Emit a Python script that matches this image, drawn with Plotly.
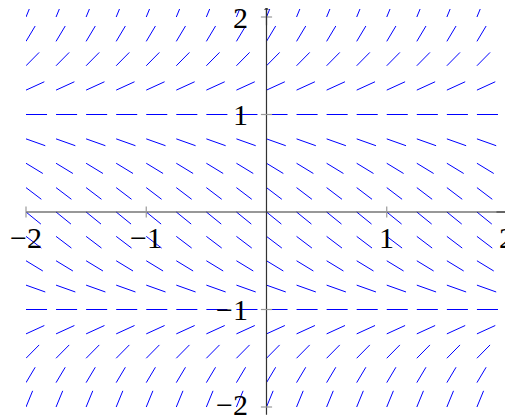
import plotly.graph_objects as go
import numpy as np

# slope field grid (columns / rows) and the slope read on each row
x_cols = [-2.0, -1.75, -1.5, -1.25, -1.0, -0.75, -0.5, -0.25, 0.0,
          0.25, 0.5, 0.75, 1.0, 1.25, 1.5, 1.75, 2.0]
y_rows = [-2.0, -1.75, -1.5, -1.25, -1.0, -0.75, -0.5, -0.25, 0.0,
          0.25, 0.5, 0.75, 1.0, 1.25, 1.5, 1.75, 2.0]
row_slopes = [3.0, 2.0625, 1.25, 0.5625, 0.0, -0.4375, -0.75, -0.9375, -1.0,
              -0.9375, -0.75, -0.4375, 0.0, 0.5625, 1.25, 2.0625, 3.0]

x_ticks = [-2, -1, 1, 2]
y_ticks = [-2, -1, 1, 2]
tick_text = {-2: "\u22122", -1: "\u22121", 1: "1", 2: "2"}

seg_len = 0.175

xs, ys = [], []
for y, s in zip(y_rows, row_slopes):
    dx = seg_len / np.sqrt(1 + s * s)
    dy = s * dx
    for x in x_cols:
        xs += [x, x + dx, None]
        ys += [y, y + dy, None]

fig = go.Figure()

fig.add_trace(go.Scatter(x=xs, y=ys, mode="lines",
                         line=dict(color="#0000ff", width=1),
                         hoverinfo="skip", showlegend=False))

# axis lines
fig.add_trace(go.Scatter(x=[-2, 2.04], y=[0, 0], mode="lines",
                         line=dict(color="#333333", width=1.2),
                         hoverinfo="skip", showlegend=False, cliponaxis=False))
fig.add_trace(go.Scatter(x=[0, 0], y=[-2.08, 2.08], mode="lines",
                         line=dict(color="#333333", width=1.2),
                         hoverinfo="skip", showlegend=False, cliponaxis=False))

# tick marks
fig.add_trace(go.Scatter(x=x_ticks, y=[0] * len(x_ticks), mode="markers",
                         marker=dict(symbol="line-ns", size=8,
                                     line=dict(color="#999999", width=1.2)),
                         hoverinfo="skip", showlegend=False, cliponaxis=False))
fig.add_trace(go.Scatter(x=[0] * len(y_ticks), y=y_ticks, mode="markers",
                         marker=dict(symbol="line-ew", size=8,
                                     line=dict(color="#999999", width=1.2)),
                         hoverinfo="skip", showlegend=False, cliponaxis=False))

annotations = []
for t in x_ticks:
    annotations.append(dict(x=t, y=0, xref="x", yref="y", text=tick_text[t],
                            showarrow=False, yshift=-25, xanchor="center",
                            yanchor="middle",
                            font=dict(family="Liberation Serif", size=30, color="black")))
for t in y_ticks:
    # lowest label sits a little higher so it stays inside the page
    annotations.append(dict(x=0, y=t, xref="x", yref="y", text=tick_text[t],
                            showarrow=False, xshift=-16, yshift=3 if t == -2 else 0,
                            xanchor="right", yanchor="middle",
                            font=dict(family="Liberation Serif", size=30, color="black")))

# arrow heads
annotations.append(dict(x=2.055, y=0, ax=1.9, ay=0, xref="x", yref="y",
                        axref="x", ayref="y", text="", showarrow=True,
                        arrowhead=1, arrowsize=0.7, arrowwidth=1.2,
                        arrowcolor="#333333"))
annotations.append(dict(x=0, y=2.1, ax=0, ay=1.9, xref="x", yref="y",
                        axref="x", ayref="y", text="", showarrow=True,
                        arrowhead=1, arrowsize=0.7, arrowwidth=1.2,
                        arrowcolor="#333333"))

# page body adds an 8px offset, so the figure is sized to fill the rest
fig.update_layout(
    width=505, height=411,
    margin=dict(l=18, r=0, t=1, b=4),
    plot_bgcolor="white", paper_bgcolor="white",
    xaxis=dict(range=[-2, 2.05], visible=False, fixedrange=True),
    yaxis=dict(range=[-2.082, 2.082], visible=False, fixedrange=True),
    annotations=annotations,
)

fig.write_html("out.html")
